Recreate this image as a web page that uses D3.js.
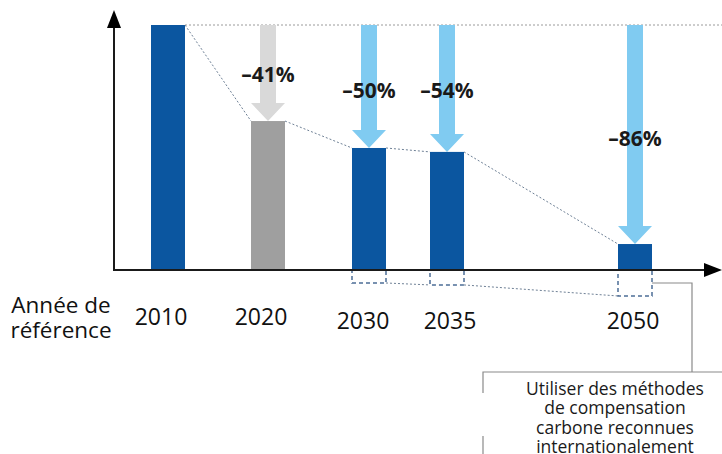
<!doctype html>
<html>
<head>
<meta charset="utf-8"/>
<title>Réduction des émissions</title>
<script src="https://cdnjs.cloudflare.com/ajax/libs/d3/7.8.5/d3.min.js"></script>
<style>
  body { margin: 0; background: #fff; }
  svg { display: block; font-family: "Open Sans", "Noto Sans", sans-serif; }
</style>
</head>
<body>
<svg id="chart" width="722" height="454"></svg>
<script>
// data (emissions, base year = 100)
var years = [2010, 2020, 2030, 2035, 2050];
var emissions = [100, 60.8, 49.8, 48.2, 10.6];
var offsets = [0, 0, 5.3, 6.1, 10.6];           // dashed boxes below the axis
var reductions = ["", "–41%", "–50%", "–54%", "–86%"];
var kinds = ["base", "past", "goal", "goal", "goal"];
var baseLabel = ["Année de", "référence"];
var noteLines = ["Utiliser des méthodes", "de compensation", "carbone reconnues", "internationalement"];

var svg = d3.select("#chart");

var x = d3.scaleLinear()
  .domain(years)
  .range([168, 268, 369, 447, 635]);
// year labels are not quite centred under their bars
var labelX = d3.scaleLinear()
  .domain(years)
  .range([161, 261, 363, 450, 633]);
var y = d3.scaleLinear().domain([0, 100]).range([270, 25]);

var barW = 34, shaftW = 16, headH = 18;
var barColor = {base: "#0b56a0", past: "#9f9f9f", goal: "#0b56a0"};
var arrowColor = {past: "#d9d9d9", goal: "#80cbf1"};

var rows = years.map(function (yr, i) {
  return {year: yr, value: emissions[i], offset: offsets[i], label: reductions[i], kind: kinds[i]};
});

// reference line at base-year level
svg.append("line")
  .attr("x1", x(2010) + barW / 2).attr("x2", 722)
  .attr("y1", y(100)).attr("y2", y(100))
  .attr("stroke", "#9a9a9a").attr("stroke-width", 1)
  .attr("stroke-dasharray", "2,2");

// reduction arrows
svg.selectAll("path.arrow")
  .data(rows.filter(d => d.kind != "base"))
  .enter().append("path")
  .attr("class", "arrow")
  .attr("fill", d => arrowColor[d.kind])
  .attr("d", function (d) {
    var cx = x(d.year), t = y(100), b = y(d.value);
    return "M" + (cx - shaftW / 2) + "," + t +
      "L" + (cx + shaftW / 2) + "," + t +
      "L" + (cx + shaftW / 2) + "," + (b - headH) +
      "L" + (cx + barW / 2) + "," + (b - headH) +
      "L" + cx + "," + b +
      "L" + (cx - barW / 2) + "," + (b - headH) +
      "L" + (cx - shaftW / 2) + "," + (b - headH) + "Z";
  });

// bars
svg.selectAll("rect.bar")
  .data(rows)
  .enter().append("rect")
  .attr("class", "bar")
  .attr("x", d => x(d.year) - barW / 2)
  .attr("width", barW)
  .attr("y", d => y(d.value))
  .attr("height", d => y(0) - y(d.value))
  .attr("fill", d => barColor[d.kind]);

// dotted lines joining bar tops
for (var i = 0; i < rows.length - 1; i++) {
  svg.append("line")
    .attr("x1", x(rows[i].year) + barW / 2).attr("y1", y(rows[i].value))
    .attr("x2", x(rows[i + 1].year) - barW / 2).attr("y2", y(rows[i + 1].value))
    .attr("stroke", "#6f8196").attr("stroke-width", 1)
    .attr("stroke-dasharray", "2,2");
}

// offset boxes below the axis
var withOffset = rows.filter(d => d.offset > 0);
svg.selectAll("rect.offset")
  .data(withOffset)
  .enter().append("rect")
  .attr("class", "offset")
  .attr("x", d => x(d.year) - barW / 2)
  .attr("width", barW)
  .attr("y", y(0))
  .attr("height", d => y(0) - y(d.offset))
  .attr("fill", "none")
  .attr("stroke", "#4c6d96").attr("stroke-width", 1.5)
  .attr("stroke-dasharray", "4,3");

for (var j = 0; j < withOffset.length - 1; j++) {
  svg.append("line")
    .attr("x1", x(withOffset[j].year) + barW / 2).attr("y1", 2 * y(0) - y(withOffset[j].offset))
    .attr("x2", x(withOffset[j + 1].year) - barW / 2).attr("y2", 2 * y(0) - y(withOffset[j + 1].offset))
    .attr("stroke", "#6f8196").attr("stroke-width", 1)
    .attr("stroke-dasharray", "2,2");
}

// axes with arrowheads
var ax = 114;
svg.append("line")
  .attr("x1", ax).attr("x2", 706).attr("y1", y(0)).attr("y2", y(0))
  .attr("stroke", "#1a1a1a").attr("stroke-width", 2);
svg.append("path").attr("fill", "#000")
  .attr("d", "M704," + (y(0) - 7) + "L722," + y(0) + "L704," + (y(0) + 7) + "Z");
svg.append("line")
  .attr("x1", ax).attr("x2", ax).attr("y1", y(0) + 1).attr("y2", 26)
  .attr("stroke", "#1a1a1a").attr("stroke-width", 2);
svg.append("path").attr("fill", "#000")
  .attr("d", "M" + (ax - 7) + ",28L" + ax + ",10L" + (ax + 7) + ",28Z");

// reduction labels
svg.selectAll("text.pct")
  .data(rows.filter(d => d.label))
  .enter().append("text")
  .attr("class", "pct")
  .attr("x", d => x(d.year))
  .attr("y", d => d.kind == "past" ? 82 : (d.value < 20 ? 146 : 98))
  .attr("text-anchor", "middle")
  .attr("font-size", 21).attr("font-weight", 700)
  .attr("fill", "#1a1a1a")
  .text(d => d.label);

// year labels
svg.selectAll("text.year")
  .data(rows)
  .enter().append("text")
  .attr("class", "year")
  .attr("x", d => labelX(d.year))
  .attr("y", d => d.offset > 0 ? 329 : 325)
  .attr("text-anchor", "middle")
  .attr("font-size", 23)
  .attr("fill", "#111")
  .text(d => d.year);

svg.append("text")
  .attr("font-size", 22.5).attr("fill", "#111")
  .attr("text-anchor", "middle")
  .selectAll("tspan").data(baseLabel).enter().append("tspan")
  .attr("x", 61).attr("y", (d, k) => 313 + k * 25)
  .text(d => d);

// callout
var last = withOffset[withOffset.length - 1];
svg.append("path")
  .attr("fill", "none").attr("stroke", "#8a8a8a").attr("stroke-width", 1.2)
  .attr("d", "M" + (x(last.year) + barW / 2) + "," + 283 + "H692V372");
svg.append("path")
  .attr("fill", "none").attr("stroke", "#8a8a8a").attr("stroke-width", 1.2)
  .attr("d", "M483,393V372H722M483,436V454");

svg.append("text")
  .attr("font-size", 17.5).attr("fill", "#1a1a1a").attr("text-anchor", "middle")
  .selectAll("tspan").data(noteLines).enter().append("tspan")
  .attr("x", 615).attr("y", (d, k) => 395 + k * 19.3)
  .text(d => d);
</script>
</body>
</html>
